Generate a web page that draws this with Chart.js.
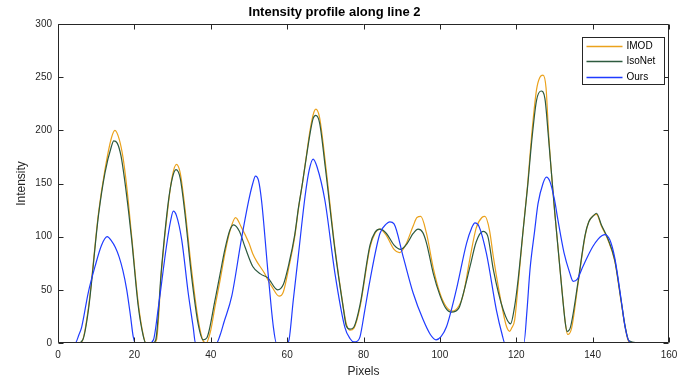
<!DOCTYPE html>
<html><head><meta charset="utf-8">
<script src="https://cdn.jsdelivr.net/npm/chart.js@4/dist/chart.umd.min.js"></script>
<style>html,body{margin:0;padding:0;background:#fff}canvas{display:block}</style>
</head><body>
<canvas id="c" width="686" height="381"></canvas>
<script>
const chartTitle = 'Intensity profile along line 2';
const xAxisLabel = 'Pixels';
const yAxisLabel = 'Intensity';
const seriesNames = ['IMOD', 'IsoNet', 'Ours'];
const seriesColors = ['#EBA21C', '#2D5A3F', '#1F3BFF'];
const xTickValues = [0, 20, 40, 60, 80, 100, 120, 140, 160];
const yTickValues = [0, 50, 100, 150, 200, 250, 300];

const imodX = [1,5,6.2,8,10.6,12.3,14,14.9,16,17,18,19.3,21,22.3,23,25,25.8,27.1,28.9,30,31,32,33.2,35,36.7,38,38.8,40,41.1,42.5,43.7,45,46.5,48,50,51,52,54,55,56,57.9,59,60.5,62,63,64,65,66,67,67.5,68.5,70,72.5,74.7,75.5,76.5,77.5,79.1,81.7,83,84.3,86,88,89.4,91,93,94,95,96.5,98.3,100,101.5,103.3,105,106.1,107.9,109.5,111,111.8,113,114,116.6,117.5,118.3,118.8,119.6,120.5,121.8,123,124,125.3,126.2,127,127.8,128.5,130.1,131.9,133,133.5,134.5,136.2,138,139,140.3,141,142.3,144,145.8,147.5,148.5,149.5,152];
const imodY = [0,0,1,34,122,163,193,200,192,175,147,100,38,8,0,0,3,68,131,158,168,160,128,68,22,2,0,12,34,60,84,105,118,109,94,84,77,66,59,53,44,48,72,100,127,150,175,200,217,220,212,170,90,34,18,12,14,34,90,103,107,101,88,85,92,110,118,119,103,70,47,35,30,35,45,80,108,118,119,106,81,28,15,11,14,22,55,106,150,194,238,250,252,240,195,122,53,15,8,14,56,100,114,120,121,110,97,77,38,15,1,0];

const isoX = [1,5.3,6.5,8,10.6,12.3,14,14.6,15.5,16.5,17.5,18.5,19.3,21,22.3,23,24.8,25.6,27.1,28.9,30,30.9,32,33.2,35,36.7,38,39,41.1,42.5,43.7,45,46,47.5,49,51,53,55,57.5,59,60.5,62,63,64,65,66,66.8,67.5,68.5,70,72.5,74.7,75.5,76.5,77.5,79.1,81.7,83,84.3,86,88,89.7,91.5,93,94.3,95.5,96.5,98.3,100,101.5,103,105,106.1,107.9,109.5,111.3,112.5,114,116.6,118.5,119.6,120.5,121.8,123,124,125.3,126.5,127.5,128.4,130.1,131.9,132.8,133.3,134.2,136.2,138,139,140.3,141,142.3,144,145.8,147.5,148.5,149.5,152];
const isoY = [0,0,3,32,120,160,185,190,188,176,152,123,97,35,7,0,0,3,70,133,156,163,155,123,62,18,3,5,40,66,88,106,111,105,90,72,65,61,50,55,75,102,128,150,174,197,211,214,207,165,88,33,16,13,15,36,92,104,107,103,92,88,94,103,107,104,94,65,45,33,29,33,46,72,95,105,101,69,31,18,35,60,106,148,188,228,237,230,195,122,52,20,11,15,58,101,114,120,122,111,98,78,39,16,2,0];

const oursX = [1,4.5,5.5,6.2,7.9,9.7,11.4,12.9,14,15,16,17,18,19,19.7,20.3,24,25,26.3,28.4,29.5,30.2,31,32.4,34.1,35.4,36,41.5,42.5,43.5,45.5,48,50,51,51.7,52.5,53.3,55,56.4,57.2,60,60.5,61.6,62.9,64.7,65.8,66.8,67.8,69.9,72.5,75.1,76.5,77.5,78.5,79.1,80.3,81.7,84.3,86,86.9,88,90.4,93,95.6,97.5,99,100.3,101.7,104.3,107,108.3,109.2,110.2,112.2,114.8,116.3,117,122,122.8,123.6,124.8,125.7,127,127.9,128.8,130,130.9,132.5,134,134.9,136,137.1,138.5,140.1,141.5,142.5,143.2,144.5,145.8,147.5,148.5,149.7,151.5];
const oursY = [0,0,8,15,47,72,92,100,96,90,81,68,50,25,6,0,0,3,34,91,115,124,120,97,47,15,0,0,8,20,44,97,135,150,157,153,134,66,15,0,0,3,40,81,138,163,173,166,134,66,15,4,1,2,6,30,59,103,112,114,112,81,47,22,8,3,6,15,50,94,108,113,110,84,31,8,0,0,30,69,105,131,150,156,152,135,116,85,66,58,60,69,80,91,98,101,102,97,80,40,15,1,0];

const FONT = '"Liberation Sans", Arial, Helvetica, sans-serif';
const AXIS_COLOR = '#262626';

function pts(xs, ys) { return xs.map((x, i) => ({x: x, y: ys[i]})); }

const seriesX = [imodX, isoX, oursX];
const seriesY = [imodY, isoY, oursY];

const datasets = seriesNames.map((name, i) => ({
  label: name,
  data: pts(seriesX[i], seriesY[i]),
  borderColor: seriesColors[i],
  backgroundColor: seriesColors[i],
  borderWidth: 1.2,
  pointRadius: 0,
  fill: false,
  cubicInterpolationMode: 'monotone',
  order: seriesNames.length - i
}));

const matlabAxes = {
  id: 'matlabAxes',
  afterDraw(chart) {
    const ctx = chart.ctx;
    const a = chart.chartArea;
    const xs = chart.scales.x, ys = chart.scales.y;
    const L = Math.round(a.left) + 0.5, R = Math.round(a.right) - 0.5;
    const T = Math.round(a.top) + 0.5, B = Math.round(a.bottom) - 0.5;
    ctx.save();
    ctx.strokeStyle = AXIS_COLOR;
    ctx.lineWidth = 1;
    ctx.beginPath();
    ctx.rect(L, T, R - L, B - T);
    const tl = 5;
    xTickValues.forEach(v => {
      const px = Math.round(xs.getPixelForValue(v)) + 0.5;
      ctx.moveTo(px, B); ctx.lineTo(px, B - tl);
      ctx.moveTo(px, T); ctx.lineTo(px, T + tl);
    });
    yTickValues.forEach(v => {
      const py = Math.round(ys.getPixelForValue(v)) + 0.5;
      ctx.moveTo(L, py); ctx.lineTo(L + tl, py);
      ctx.moveTo(R, py); ctx.lineTo(R - tl, py);
    });
    ctx.stroke();

    // legend box
    ctx.font = '10px ' + FONT;
    const labels = chart.data.datasets.map(d => d.label);
    const maxW = Math.max(...labels.map(t => ctx.measureText(t).width));
    const boxR = Math.round(a.right) - 4.5;
    const lineLen = 36;
    const boxW = 4 + lineLen + 4 + maxW + 10;
    const boxL = Math.round(boxR - boxW) + 0.5;
    const boxT = Math.round(a.top) + 13.5;
    const rowH = 15.5;
    const boxH = 47;
    ctx.fillStyle = '#fff';
    ctx.fillRect(boxL, boxT, boxR - boxL, boxH);
    ctx.strokeStyle = AXIS_COLOR;
    ctx.lineWidth = 1;
    ctx.strokeRect(boxL, boxT, boxR - boxL, boxH);
    ctx.textBaseline = 'middle';
    ctx.textAlign = 'left';
    chart.data.datasets.forEach((d, i) => {
      const cy = Math.round(boxT + 8 + rowH * i) + 0.5;
      ctx.strokeStyle = d.borderColor;
      ctx.lineWidth = 1.5;
      ctx.beginPath();
      ctx.moveTo(boxL + 4, cy); ctx.lineTo(boxL + 4 + lineLen, cy);
      ctx.stroke();
      ctx.fillStyle = '#000';
      ctx.fillText(d.label, boxL + 4 + lineLen + 4, cy);
    });
    ctx.restore();
  }
};

new Chart(document.getElementById('c'), {
  type: 'line',
  data: { datasets: datasets },
  options: {
    responsive: false,
    animation: false,
    devicePixelRatio: 1,
    layout: { padding: { left: 0, right: 17, top: 0, bottom: 0 } },
    plugins: {
      legend: { display: false },
      tooltip: { enabled: false },
      title: {
        display: true,
        text: chartTitle,
        color: '#000',
        font: { family: FONT, size: 13, weight: 'bold', lineHeight: '15px' },
        padding: { top: 5, bottom: 4 }
      }
    },
    scales: {
      x: {
        type: 'linear',
        min: 0, max: 160,
        afterBuildTicks: s => { s.ticks = xTickValues.map(v => ({ value: v })); },
        ticks: { color: AXIS_COLOR, font: { family: FONT, size: 10 }, padding: 6, maxRotation: 0, autoSkip: false },
        grid: { display: false, drawTicks: false },
        border: { display: false },
        title: { display: true, text: xAxisLabel, color: AXIS_COLOR, font: { family: FONT, size: 12, lineHeight: 1.2 }, padding: { top: 0, bottom: 2.5 } },
        afterFit: s => { s.height = 38; }
      },
      y: {
        type: 'linear',
        min: 0, max: 300,
        afterBuildTicks: s => { s.ticks = yTickValues.map(v => ({ value: v })); },
        ticks: { color: AXIS_COLOR, font: { family: FONT, size: 10 }, padding: 6 },
        grid: { display: false, drawTicks: false },
        border: { display: false },
        title: { display: true, text: yAxisLabel, color: AXIS_COLOR, font: { family: FONT, size: 12, lineHeight: 1.2 }, padding: { top: 14, bottom: 0 } },
        afterFit: s => { s.width = 58; }
      }
    }
  },
  plugins: [matlabAxes]
});
</script>
</body></html>
